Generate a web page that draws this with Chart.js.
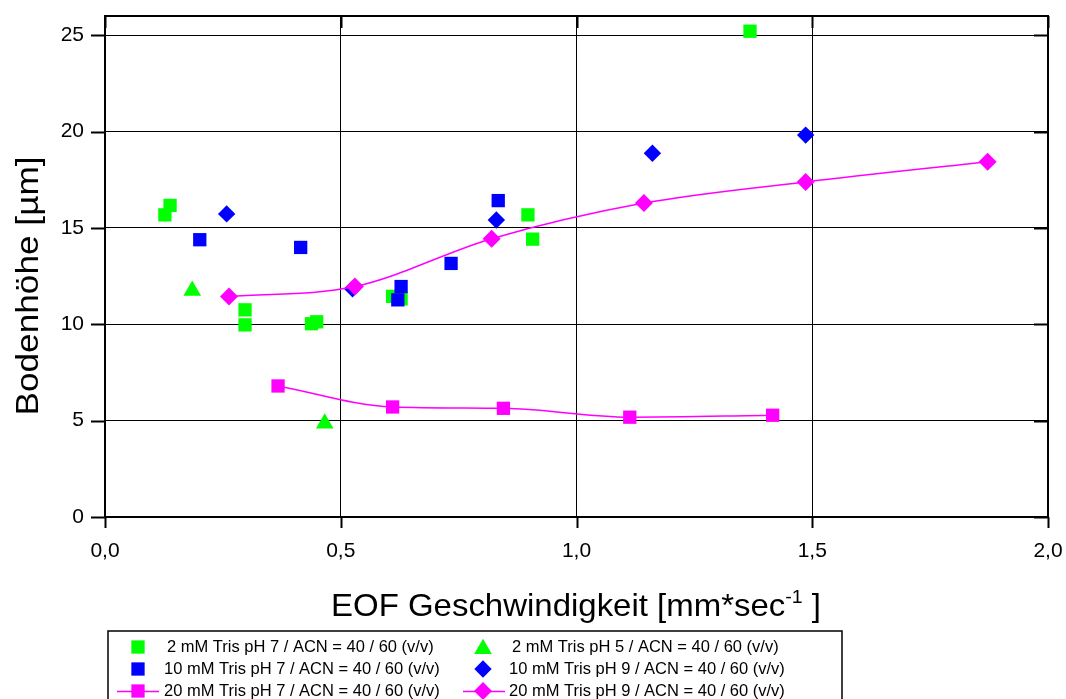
<!DOCTYPE html>
<html>
<head>
<meta charset="utf-8">
<script src="https://cdn.jsdelivr.net/npm/chart.js@4.4.0/dist/chart.umd.min.js"></script>
<style>
  html, body { margin: 0; padding: 0; background: #fff; }
  #wrap { position: relative; width: 1066px; height: 699px; }
</style>
</head>
<body>
<div id="wrap"><canvas id="chart"></canvas></div>
<script>
// axis ticks
const xTicks = [0, 0.5, 1.0, 1.5, 2.0];
const yTicks = [0, 5, 10, 15, 20, 25];

// 2 mM Tris pH 7
const tris2pH7X = [0.127, 0.138, 0.297, 0.297, 0.438, 0.449, 0.610, 0.628, 0.897, 0.907, 1.368];
const tris2pH7Y = [15.68, 16.17, 10.75, 9.97, 10.03, 10.13, 11.45, 11.32, 15.68, 14.42, 25.21];

// 2 mM Tris pH 5
const tris2pH5X = [0.185, 0.466];
const tris2pH5Y = [11.75, 4.86];

// 10 mM Tris pH 7
const tris10pH7X = [0.201, 0.415, 0.628, 0.621, 0.734, 0.834];
const tris10pH7Y = [14.39, 13.99, 11.96, 11.27, 13.16, 16.42];

// 10 mM Tris pH 9
const tris10pH9X = [0.258, 0.525, 0.830, 1.161, 1.486];
const tris10pH9Y = [15.73, 11.84, 15.41, 18.88, 19.82];

// 20 mM Tris pH 7 (fitted curve)
const tris20pH7X = [0.367, 0.610, 0.845, 1.113, 1.416];
const tris20pH7Y = [6.80, 5.71, 5.64, 5.18, 5.28];

// 20 mM Tris pH 9 (fitted curve)
const tris20pH9X = [0.263, 0.530, 0.820, 1.143, 1.486, 1.872];
const tris20pH9Y = [11.44, 11.96, 14.44, 16.29, 17.39, 18.44];

const seriesLabels = [
  '2 mM Tris pH 7 / ACN = 40 / 60 (v/v)',
  '10 mM Tris pH 7 / ACN = 40 / 60 (v/v)',
  '20 mM Tris pH 7 / ACN = 40 / 60 (v/v)',
  '2 mM Tris pH 5 / ACN = 40 / 60 (v/v)',
  '10 mM Tris pH 9 / ACN = 40 / 60 (v/v)',
  '20 mM Tris pH 9 / ACN = 40 / 60 (v/v)'
];

const FONT = 'Liberation Sans, Arial, sans-serif';
const GREEN = '#00ff00';
const BLUE = '#0000ff';
const MAGENTA = '#ff00ff';

function toPoints(xs, ys) {
  return xs.map((x, i) => ({ x: x, y: ys[i] }));
}

function markerSet(label, xs, ys, color, style, radius, order) {
  return {
    label: label,
    data: toPoints(xs, ys),
    showLine: false,
    pointStyle: style,
    pointRadius: radius,
    pointHoverRadius: radius,
    pointBackgroundColor: color,
    pointBorderColor: color,
    pointBorderWidth: 0,
    order: order
  };
}

function curveSet(label, xs, ys, color, style, radius, order) {
  const ds = markerSet(label, xs, ys, color, style, radius, order);
  ds.showLine = true;
  ds.borderColor = color;
  ds.borderWidth = 1.5;
  ds.cubicInterpolationMode = 'monotone';
  return ds;
}

const datasets = [
  markerSet(seriesLabels[0], tris2pH7X, tris2pH7Y, GREEN, 'rect', 9.4, 6),
  markerSet(seriesLabels[1], tris10pH7X, tris10pH7Y, BLUE, 'rect', 9.4, 4),
  curveSet(seriesLabels[2], tris20pH7X, tris20pH7Y, MAGENTA, 'rect', 9.4, 2),
  markerSet(seriesLabels[3], tris2pH5X, tris2pH5Y, GREEN, 'triangle', 10.2, 5),
  markerSet(seriesLabels[4], tris10pH9X, tris10pH9Y, BLUE, 'rectRot', 8.7, 3),
  curveSet(seriesLabels[5], tris20pH9X, tris20pH9Y, MAGENTA, 'rectRot', 9, 1)
];

// keep the plot box fixed: no extra room for overhanging tick labels
function pinBox(scale, size) {
  if (scale.isHorizontal()) scale.height = size; else scale.width = size;
  scale.paddingTop = 0;
  scale.paddingBottom = 0;
  scale.paddingLeft = 0;
  scale.paddingRight = 0;
}

// frame, inner/outer tick marks, axis titles and the boxed legend
const decorations = {
  id: 'decorations',
  afterDraw(chart) {
    const ctx = chart.ctx;
    const area = chart.chartArea;
    const xs = chart.scales.x;
    const ys = chart.scales.y;
    ctx.save();

    ctx.strokeStyle = '#000';
    ctx.lineWidth = 2;
    ctx.strokeRect(area.left, area.top, area.right - area.left, area.bottom - area.top);

    ctx.beginPath();
    yTicks.forEach(v => {
      const y = Math.round(ys.getPixelForValue(v)) + 0.5;
      ctx.moveTo(area.left - 14, y); ctx.lineTo(area.left, y);
      ctx.moveTo(area.right - 14, y); ctx.lineTo(area.right, y);
    });
    xTicks.forEach(v => {
      const x = Math.round(xs.getPixelForValue(v)) + 0.5;
      ctx.moveTo(x, area.bottom); ctx.lineTo(x, area.bottom + 11);
      ctx.moveTo(x, area.top); ctx.lineTo(x, area.top + 12);
    });
    ctx.stroke();

    // y title, slightly stretched along its length
    ctx.fillStyle = '#000';
    ctx.save();
    ctx.translate(38, 286);
    ctx.rotate(-Math.PI / 2);
    ctx.scale(1.1, 1);
    ctx.font = '32px ' + FONT;
    ctx.textAlign = 'center';
    ctx.textBaseline = 'alphabetic';
    ctx.fillText('Bodenhöhe [µm]', 0, 0);
    ctx.restore();

    // x title with superscript
    const main = 'EOF Geschwindigkeit [mm*sec';
    const sup = '-1';
    const tail = ' ]';
    const sx = 1.03;
    ctx.textAlign = 'left';
    ctx.textBaseline = 'alphabetic';
    ctx.font = '32px ' + FONT;
    const w1 = ctx.measureText(main).width;
    const w3 = ctx.measureText(tail).width;
    ctx.font = '19px ' + FONT;
    const w2 = ctx.measureText(sup).width;
    const base = 616;
    ctx.save();
    ctx.translate(576 - sx * (w1 + w2 + w3) / 2, 0);
    ctx.scale(sx, 1);
    ctx.font = '32px ' + FONT;
    ctx.fillText(main, 0, base);
    ctx.font = '19px ' + FONT;
    ctx.fillText(sup, w1, base - 13);
    ctx.font = '32px ' + FONT;
    ctx.fillText(tail, w1 + w2, base);
    ctx.restore();

    // legend box
    const box = { left: 108, top: 631, right: 842 };
    ctx.lineWidth = 1.5;
    ctx.beginPath();
    ctx.moveTo(box.left, chart.height);
    ctx.lineTo(box.left, box.top);
    ctx.lineTo(box.right, box.top);
    ctx.lineTo(box.right, chart.height);
    ctx.stroke();

    const rows = [647, 669, 691];
    const cols = [
      { marker: 138, text: 164, lineFrom: 117, lineTo: 159 },
      { marker: 483, text: 509, lineFrom: 463, lineTo: 505 }
    ];
    ctx.font = '16.5px ' + FONT;
    ctx.textBaseline = 'middle';
    datasets.forEach((ds, i) => {
      const col = cols[Math.floor(i / 3)];
      const y = rows[i % 3];
      if (ds.showLine) {
        ctx.strokeStyle = ds.borderColor;
        ctx.lineWidth = 1.5;
        ctx.beginPath();
        ctx.moveTo(col.lineFrom, y + 0.5);
        ctx.lineTo(col.lineTo, y + 0.5);
        ctx.stroke();
      }
      ctx.fillStyle = ds.pointBackgroundColor;
      Chart.helpers.drawPoint(ctx, {
        pointStyle: ds.pointStyle,
        radius: ds.pointRadius,
        rotation: 0,
        borderWidth: 0
      }, col.marker, ds.pointStyle === 'triangle' ? y + 2 : y);
      ctx.fillStyle = '#000';
      const shift = ds.label.startsWith('2 ') ? 3 : 0;
      ctx.fillText(ds.label, col.text + shift, y);
    });

    ctx.restore();
  }
};

new Chart(document.getElementById('chart'), {
  type: 'scatter',
  data: { datasets: datasets },
  options: {
    responsive: true,
    maintainAspectRatio: false,
    animation: false,
    events: [],
    layout: { padding: { left: 0, top: 16, right: 18, bottom: 0 } },
    plugins: {
      legend: { display: false },
      tooltip: { enabled: false },
      title: { display: false }
    },
    scales: {
      x: {
        type: 'linear',
        min: 0,
        max: 2,
        afterFit: scale => pinBox(scale, 182),
        afterBuildTicks: scale => { scale.ticks = xTicks.map(v => ({ value: v })); },
        grid: { color: '#000', lineWidth: 1, drawTicks: false },
        border: { display: false },
        ticks: {
          autoSkip: false,
          maxRotation: 0,
          padding: 22,
          color: '#000',
          font: { family: FONT, size: 21 },
          callback: v => v.toFixed(1).replace('.', ',')
        }
      },
      y: {
        type: 'linear',
        min: 0,
        max: 26,
        afterFit: scale => pinBox(scale, 105),
        afterBuildTicks: scale => { scale.ticks = yTicks.map(v => ({ value: v })); },
        grid: { color: '#000', lineWidth: 1, drawTicks: false },
        border: { display: false },
        ticks: {
          autoSkip: false,
          padding: 21,
          color: '#000',
          font: { family: FONT, size: 21 },
          callback: v => String(v)
        }
      }
    }
  },
  plugins: [decorations]
});
</script>
</body>
</html>
